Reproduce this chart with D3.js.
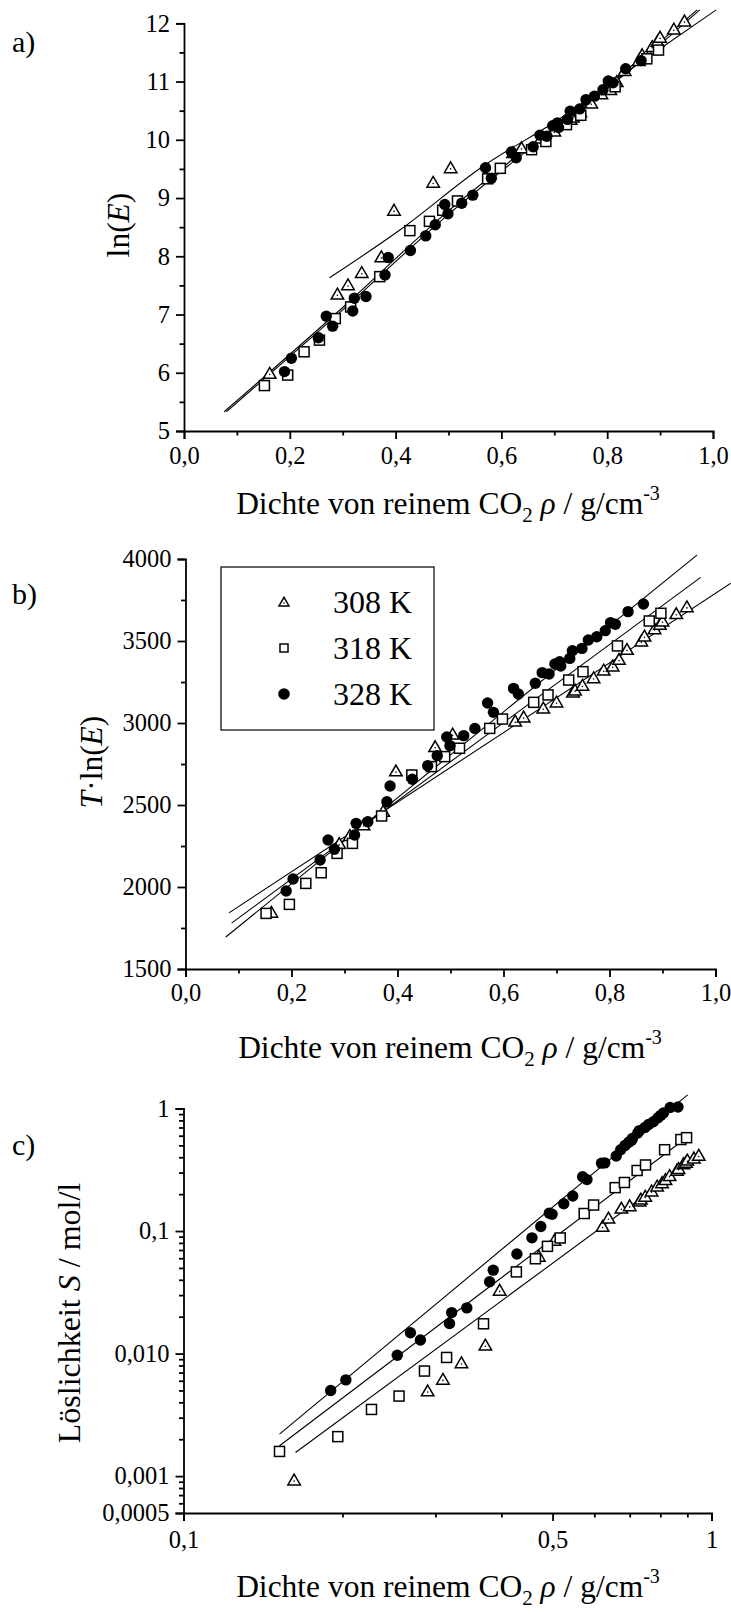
<!DOCTYPE html>
<html>
<head>
<meta charset="utf-8">
<script src="https://cdn.jsdelivr.net/npm/d3@7"></script>
<style>
  html, body { margin: 0; padding: 0; background: #fff; }
  svg { display: block; }
  text { font-family: "Liberation Serif", "Times New Roman", serif; fill: #000; }
</style>
</head>
<body>
<svg id="fig" width="731" height="1614"></svg>
<script>
// ---- measured data: density of pure CO2 (g/cm3) per temperature ----
const rho308 = [0.162, 0.290, 0.310, 0.336, 0.373, 0.397, 0.471, 0.504, 0.622, 0.638, 0.675, 0.700, 0.731, 0.735, 0.749, 0.770, 0.789, 0.806, 0.818, 0.833, 0.860, 0.866, 0.885, 0.895, 0.900, 0.926, 0.946];
const rho318 = [0.152, 0.196, 0.227, 0.256, 0.286, 0.315, 0.370, 0.427, 0.464, 0.489, 0.517, 0.574, 0.598, 0.657, 0.684, 0.723, 0.750, 0.815, 0.875, 0.897];
const rho328 = [0.190, 0.203, 0.254, 0.269, 0.281, 0.319, 0.322, 0.344, 0.380, 0.386, 0.428, 0.457, 0.475, 0.493, 0.499, 0.525, 0.546, 0.570, 0.581, 0.619, 0.628, 0.660, 0.673, 0.686, 0.697, 0.706, 0.708, 0.725, 0.730, 0.748, 0.760, 0.776, 0.792, 0.802, 0.811, 0.835, 0.864];

// ln(E)
const lnE308 = [5.98, 7.34, 7.50, 7.71, 7.98, 8.78, 9.26, 9.51, 9.77, 9.85, 10.02, 10.14, 10.34, 10.38, 10.47, 10.62, 10.78, 10.85, 10.99, 11.18, 11.35, 11.45, 11.59, 11.68, 11.75, 11.89, 12.03];
const lnE318 = [5.78, 5.96, 6.36, 6.56, 6.93, 7.13, 7.65, 8.44, 8.60, 8.79, 8.95, 9.33, 9.51, 9.83, 9.97, 10.26, 10.42, 10.91, 11.39, 11.54];
const lnE328 = [6.02, 6.25, 6.60, 6.97, 6.80, 7.06, 7.28, 7.31, 7.68, 7.98, 8.10, 8.35, 8.54, 8.89, 8.73, 8.91, 9.05, 9.52, 9.34, 9.79, 9.69, 9.88, 10.08, 10.06, 10.24, 10.29, 10.21, 10.35, 10.49, 10.53, 10.69, 10.75, 10.86, 11.01, 10.98, 11.22, 11.36];

// T·ln(E)
const TlnE308 = [1842, 2261, 2310, 2375, 2458, 2704, 2852, 2929, 3008, 3033, 3087, 3124, 3185, 3197, 3226, 3272, 3319, 3343, 3384, 3445, 3496, 3526, 3571, 3598, 3618, 3663, 3705];
const TlnE318 = [1839, 1894, 2022, 2087, 2205, 2266, 2433, 2683, 2734, 2795, 2846, 2967, 3024, 3126, 3171, 3262, 3313, 3470, 3622, 3669];
const TlnE328 = [1976, 2049, 2165, 2287, 2230, 2317, 2388, 2398, 2520, 2616, 2657, 2740, 2801, 2915, 2862, 2923, 2967, 3122, 3065, 3211, 3177, 3242, 3307, 3299, 3360, 3374, 3348, 3394, 3441, 3455, 3506, 3526, 3563, 3612, 3602, 3679, 3726];

// solubility S (mol/l)
const S308 = [0.00092, 0.0049, 0.0061, 0.0083, 0.0116, 0.0325, 0.0615, 0.083, 0.108, 0.126, 0.152, 0.159, 0.174, 0.180, 0.190, 0.210, 0.230, 0.245, 0.260, 0.280, 0.310, 0.320, 0.350, 0.360, 0.375, 0.390, 0.410];
const S318 = [0.00159, 0.0021, 0.0035, 0.0045, 0.0072, 0.0093, 0.0175, 0.0464, 0.0594, 0.075, 0.0878, 0.139, 0.163, 0.226, 0.249, 0.312, 0.346, 0.461, 0.558, 0.578];
const S328 = [0.0050, 0.0061, 0.0097, 0.0148, 0.0129, 0.0176, 0.0216, 0.0236, 0.0386, 0.048, 0.065, 0.088, 0.109, 0.140, 0.137, 0.167, 0.193, 0.277, 0.263, 0.358, 0.360, 0.41, 0.46, 0.50, 0.53, 0.55, 0.57, 0.63, 0.66, 0.70, 0.74, 0.78, 0.84, 0.88, 0.92, 1.02, 1.03];

// ---- model curves, as [density, value] pairs ----
const fitA308 = [[0.275, 7.63], [0.408, 8.45], [0.566, 9.55], [0.70, 10.30], [0.85, 11.25], [1.006, 12.23]];
const fitA318 = [[0.080, 5.33], [0.30, 7.08], [0.50, 8.72], [0.70, 10.18], [0.85, 11.25], [0.975, 12.23]];
const fitA328 = [[0.076, 5.33], [0.30, 7.12], [0.50, 8.78], [0.70, 10.22], [0.85, 11.30], [0.970, 12.23]];
const fitB308 = [[0.082, 1842], [1.029, 3852]];
const fitB318 = [[0.087, 1780], [0.972, 3888]];
const fitB328 = [[0.076, 1695], [0.965, 4024]];
const fitC308 = [[0.163, 0.00156], [0.955, 0.425]];
const fitC318 = [[0.152, 0.00177], [0.916, 0.62]];
const fitC328 = [[0.152, 0.00220], [0.901, 1.29]];

// ---- axis ticks ----
const ticksA = [5, 6, 7, 8, 9, 10, 11, 12];
const ticksB = [1500, 2000, 2500, 3000, 3500, 4000];
const ticksX = [0, 0.2, 0.4, 0.6, 0.8, 1.0];
const ticksCY = [0.0005, 0.001, 0.01, 0.1, 1];
const labelsCY = ["0,0005", "0,001", "0,010", "0,1", "1"];
const ticksCX = [0.1, 0.5, 1];
const labelsCX = ["0,1", "0,5", "1"];
const legendLabels = ["308 K", "318 K", "328 K"];

const TICK_FS = 24.5;
const TITLE_FS = 31.5;

const svg = d3.select("#fig");
svg.append("rect").attr("width", 731).attr("height", 1614).attr("fill", "#fff");

const comma = f => (v => d3.format(f)(v).replace(".", ","));

// markers
function triangle(g, x, y, s) {
  const h = s * Math.sqrt(3) / 2;
  g.append("path")
    .attr("d", `M${x},${y - h * 0.6}L${x + s / 2},${y + h * 0.4}L${x - s / 2},${y + h * 0.4}Z`)
    .attr("fill", "#fff").attr("stroke", "#000").attr("stroke-width", 1.5);
  g.append("circle").attr("cx", x).attr("cy", y + h * 0.05).attr("r", 0.8).attr("fill", "#000");
}
function square(g, x, y, s) {
  g.append("rect").attr("x", x - s / 2).attr("y", y - s / 2).attr("width", s).attr("height", s)
    .attr("fill", "#fff").attr("stroke", "#000").attr("stroke-width", 1.5);
}
function dot(g, x, y, r) {
  g.append("circle").attr("cx", x).attr("cy", y).attr("r", r).attr("fill", "#000");
}

function styleAxis(g) {
  g.attr("font-family", null).attr("font-size", null);
  g.select(".domain").attr("stroke", "#000").attr("stroke-width", 1.8);
  g.selectAll(".tick line").attr("stroke", "#000").attr("stroke-width", 1.8);
  g.selectAll(".tick text").attr("font-size", TICK_FS).attr("fill", "#000");
}

function drawPanel(opt) {
  const g = svg.append("g");
  const { x, y } = opt;
  // axes
  const ax = g.append("g").attr("transform", `translate(0,${y.range()[0]})`)
    .call(d3.axisBottom(x).tickValues(opt.xMajor).tickFormat(opt.xFmt).tickSizeOuter(0).tickSize(8).tickPadding(opt.xPad));
  styleAxis(ax);
  const axm = g.append("g").attr("transform", `translate(0,${y.range()[0]})`)
    .call(d3.axisBottom(x).tickValues(opt.xMinor).tickFormat("").tickSizeOuter(0).tickSize(4.5));
  styleAxis(axm);
  axm.select(".domain").remove();
  const ay = g.append("g").attr("transform", `translate(${x.range()[0]},0)`)
    .call(d3.axisLeft(y).tickValues(opt.yMajor).tickFormat(opt.yFmt).tickSizeOuter(0).tickSize(8).tickPadding(6));
  styleAxis(ay);
  const aym = g.append("g").attr("transform", `translate(${x.range()[0]},0)`)
    .call(d3.axisLeft(y).tickValues(opt.yMinor).tickFormat("").tickSizeOuter(0).tickSize(4.5));
  styleAxis(aym);
  aym.select(".domain").remove();

  // model lines
  const line = d3.line().x(d => x(d[0])).y(d => y(d[1])).curve(d3.curveMonotoneX);
  opt.fits.forEach(f => g.append("path").attr("d", line(f)).attr("fill", "none")
    .attr("stroke", "#000").attr("stroke-width", 1.1));

  // data points
  const pts = g.append("g");
  opt.s308[0].forEach((r, i) => triangle(pts, x(r), y(opt.s308[1][i]), 12.5));
  opt.s318[0].forEach((r, i) => square(pts, x(r), y(opt.s318[1][i]), 10));
  opt.s328[0].forEach((r, i) => dot(pts, x(r), y(opt.s328[1][i]), 5.7));

  // x title
  const t = g.append("text").attr("x", opt.xTitleX).attr("y", opt.xTitleY)
    .attr("text-anchor", "middle").attr("font-size", TITLE_FS);
  t.append("tspan").text("Dichte von reinem CO");
  t.append("tspan").attr("font-size", 21).attr("dy", 8).text("2");
  t.append("tspan").attr("dy", -8).text(" ");
  t.append("tspan").attr("font-style", "italic").text("ρ");
  t.append("tspan").text(" / g/cm");
  t.append("tspan").attr("font-size", 20).attr("dy", -14).text("-3");

  // panel letter
  g.append("text").attr("x", 12).attr("y", opt.letterY).attr("font-size", 30).text(opt.letter);
  return g;
}

// ---------------- panel a ----------------
const xA = d3.scaleLinear().domain([0, 1]).range([184, 713]);
const yA = d3.scaleLinear().domain([5, 12]).range([431, 23.3]);
const pa = drawPanel({
  x: xA, y: yA, xMajor: ticksX, xMinor: [0.1, 0.3, 0.5, 0.7, 0.9], xFmt: comma(".1f"), xPad: 8,
  yMajor: ticksA, yMinor: d3.range(5.5, 12, 1), yFmt: d3.format("d"),
  fits: [fitA308, fitA318, fitA328],
  s308: [rho308, lnE308], s318: [rho318, lnE318], s328: [rho328, lnE328],
  xTitleX: 448, xTitleY: 514, letter: "a)", letterY: 52
});
{
  const t = pa.append("text").attr("transform", "translate(129,225) rotate(-90)")
    .attr("text-anchor", "middle").attr("font-size", TITLE_FS);
  t.append("tspan").text("ln(");
  t.append("tspan").attr("font-style", "italic").text("E");
  t.append("tspan").text(")");
}

// ---------------- panel b ----------------
const xB = d3.scaleLinear().domain([0, 1]).range([185.5, 715.5]);
const yB = d3.scaleLinear().domain([1500, 4000]).range([969, 559]);
const pb = drawPanel({
  x: xB, y: yB, xMajor: ticksX, xMinor: [0.1, 0.3, 0.5, 0.7, 0.9], xFmt: comma(".1f"), xPad: 6.5,
  yMajor: ticksB, yMinor: d3.range(1750, 4000, 500), yFmt: d3.format("d"),
  fits: [fitB308, fitB318, fitB328],
  s308: [rho308, TlnE308], s318: [rho318, TlnE318], s328: [rho328, TlnE328],
  xTitleX: 450, xTitleY: 1058, letter: "b)", letterY: 604
});
{
  const t = pb.append("text").attr("transform", "translate(102,762) rotate(-90)")
    .attr("text-anchor", "middle").attr("font-size", TITLE_FS);
  t.append("tspan").attr("font-style", "italic").text("T");
  t.append("tspan").text("·ln(");
  t.append("tspan").attr("font-style", "italic").text("E");
  t.append("tspan").text(")");
  // legend
  const lg = pb.append("g");
  lg.append("rect").attr("x", 221).attr("y", 567).attr("width", 213).attr("height", 163)
    .attr("fill", "#fff").attr("stroke", "#000").attr("stroke-width", 1.2);
  const rows = [602.5, 648, 694];
  triangle(lg, 284, rows[0], 10);
  square(lg, 284, rows[1], 8);
  dot(lg, 284, rows[2], 5.8);
  legendLabels.forEach((l, i) => lg.append("text").attr("x", 333).attr("y", rows[i] + 10.5)
    .attr("font-size", 32).text(l));
}

// ---------------- panel c ----------------
const xC = d3.scaleLog().domain([0.1, 1]).range([183.5, 711.5]);
const yC = d3.scaleLog().domain([0.0005, 1]).range([1513, 1108.5]);
const minorCY = [0.0006, 0.0007, 0.0008, 0.0009]
  .concat(...[0.001, 0.01, 0.1].map(d => d3.range(2, 10).map(k => +(k * d).toPrecision(3))));
const pc = drawPanel({
  x: xC, y: yC, xMajor: ticksCX, xMinor: [0.2, 0.3, 0.4, 0.6, 0.7, 0.8, 0.9],
  xFmt: (d, i) => labelsCX[i], xPad: 10,
  yMajor: ticksCY, yMinor: minorCY, yFmt: (d, i) => labelsCY[i],
  fits: [fitC308, fitC318, fitC328],
  s308: [rho308, S308], s318: [rho318, S318], s328: [rho328, S328],
  xTitleX: 448, xTitleY: 1597, letter: "c)", letterY: 1155
});
{
  const t = pc.append("text").attr("transform", "translate(80,1313) rotate(-90)")
    .attr("text-anchor", "middle").attr("font-size", 32);
  t.append("tspan").text("Löslichkeit ");
  t.append("tspan").attr("font-style", "italic").text("S");
  t.append("tspan").text(" / mol/l");
}
</script>
</body>
</html>
